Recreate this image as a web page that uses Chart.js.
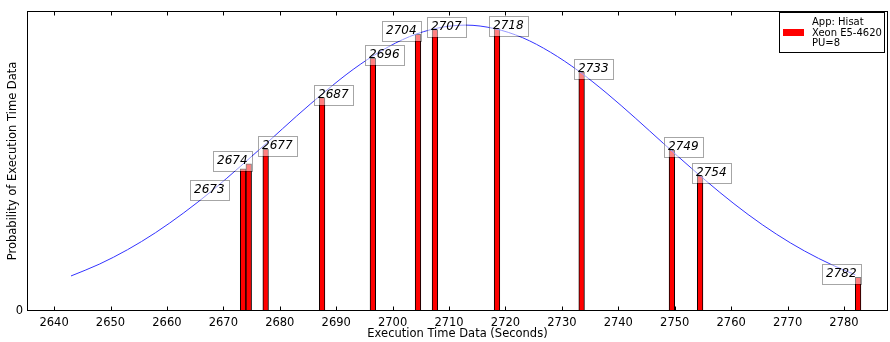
<!DOCTYPE html>
<html>
<head>
<meta charset="utf-8">
<script src="https://cdn.jsdelivr.net/npm/chart.js@4.4.1/dist/chart.umd.min.js"></script>
<style>
  html, body { margin: 0; padding: 0; background: #fff; }
  #execTimeReport { width: 890px; height: 342px; }
</style>
</head>
<body>
<div id="execTimeReport">
  <canvas id="execTimeCanvas" width="890" height="342"></canvas>
</div>
<script>
// measured run times (seconds) and their probability
const runTimes = [2673, 2674, 2677, 2687, 2696, 2704, 2707, 2718, 2733, 2749, 2754, 2782];
const runProb = [0.00580, 0.00601, 0.00661, 0.00871, 0.01032, 0.01129, 0.01149, 0.01153, 0.00975, 0.00657, 0.00552, 0.00137];

// fitted normal curve
const fitX = [2643, 2648, 2653, 2658, 2663, 2668, 2673, 2678, 2683, 2688, 2693, 2698, 2703, 2708,
  2713, 2718, 2723, 2728, 2733, 2738, 2743, 2748, 2753, 2758, 2763, 2768, 2773, 2778, 2782];
const fitY = [0.00143, 0.00191, 0.00250, 0.00320, 0.00401, 0.00491, 0.00590, 0.00692, 0.00796, 0.00895,
  0.00986, 0.01062, 0.01120, 0.01155, 0.01167, 0.01153, 0.01116, 0.01056, 0.00979, 0.00888, 0.00788,
  0.00684, 0.00582, 0.00484, 0.00394, 0.00314, 0.00245, 0.00187, 0.00148];

const xTicks = [2640, 2650, 2660, 2670, 2680, 2690, 2700, 2710, 2720, 2730, 2740, 2750, 2760, 2770, 2780];
const yTicks = [0];
const legendLines = ['App: Hisat', 'Xeon E5-4620', 'PU=8'];

const FONT = '"DejaVu Sans", sans-serif';

// labels that were pushed aside so they don't overlap (pixels)
const labelNudge = { 0: [-45, 24], 1: [-28, 0], 5: [-28, 0], 11: [-28, 0] };

/**
 * Draws the value boxes over the bar tops, the full frame with inward ticks and the legend
 */
const annotatePlugin = {
  id: 'annotatePlugin',
  afterDatasetsDraw(chart) {
    const { ctx, scales: { x, y } } = chart;
    ctx.save();
    ctx.font = 'italic 12px ' + FONT;
    ctx.textBaseline = 'alphabetic';
    ctx.textAlign = 'left';
    ctx.lineWidth = 1;
    runTimes.forEach((t, i) => {
      const [dx, dy] = labelNudge[i] || [0, 0];
      const tx = Math.round(x.getPixelForValue(t) - 1 + dx);
      const ty = Math.round(y.getPixelForValue(runProb[i]) + dy);
      const txt = String(t);
      const w = ctx.measureText(txt).width;
      const bx = tx - 4, by = ty - 13, bw = Math.round(w + 8), bh = 20;
      ctx.fillStyle = 'rgba(255,255,255,0.5)';
      ctx.fillRect(bx, by, bw, bh);
      ctx.strokeStyle = 'rgba(0,0,0,0.35)';
      ctx.strokeRect(bx + 0.5, by + 0.5, bw, bh);
      ctx.fillStyle = '#000';
      ctx.fillText(txt, tx, ty);
    });
    ctx.restore();
  },
  afterDraw(chart) {
    const { ctx, chartArea: a, scales: { x } } = chart;
    const l = Math.round(a.left) + 0.5, r = Math.round(a.right) - 0.5;
    const t = Math.round(a.top) + 0.5, b = Math.round(a.bottom) - 0.5;
    ctx.save();
    ctx.strokeStyle = '#000';
    ctx.lineWidth = 1;
    ctx.strokeRect(l, t, r - l, b - t);

    // inward ticks top and bottom
    ctx.beginPath();
    xTicks.forEach(v => {
      const px = Math.round(x.getPixelForValue(v)) + 0.5;
      ctx.moveTo(px, b);
      ctx.lineTo(px, b - 4);
      ctx.moveTo(px, t);
      ctx.lineTo(px, t + 4);
    });
    ctx.stroke();

    // legend
    const lx = 779.5, ly = 12.5, lw = 105, lh = 40;
    ctx.fillStyle = '#fff';
    ctx.fillRect(lx, ly, lw, lh);
    ctx.strokeStyle = '#000';
    ctx.strokeRect(lx, ly, lw, lh);
    ctx.fillStyle = '#ff0000';
    ctx.fillRect(783, 29, 21, 7);
    ctx.fillStyle = '#000';
    ctx.font = '10px ' + FONT;
    ctx.textBaseline = 'middle';
    ctx.textAlign = 'left';
    legendLines.forEach((line, i) => {
      ctx.fillText(line, 812, 22.5 + i * 10.5);
    });
    ctx.restore();
  },
};

const ctx = document.getElementById('execTimeCanvas').getContext('2d');

window.ExecChartRef = new Chart(ctx, {
  type: 'bar',
  data: {
    datasets: [
      {
        type: 'line',
        label: 'fit',
        data: fitX.map((v, i) => ({ x: v, y: fitY[i] })),
        borderColor: '#3333ff',
        borderWidth: 1,
        pointRadius: 0,
        cubicInterpolationMode: 'monotone',
        fill: false,
        order: 0,
      },
      {
        type: 'bar',
        label: 'App: Hisat',
        // bars sit on the right of their value (edge aligned)
        data: runTimes.map((v, i) => ({ x: v + 0.5, y: runProb[i] })),
        backgroundColor: '#ff0000',
        borderColor: '#000',
        borderWidth: 1,
        barPercentage: 1,
        categoryPercentage: 1,
        order: 1,
      },
    ],
  },
  options: {
    responsive: false,
    animation: false,
    devicePixelRatio: 1,
    layout: { padding: { left: 0, top: 7, right: 2, bottom: 0 } },
    plugins: {
      legend: { display: false },
      tooltip: { enabled: false },
    },
    scales: {
      x: {
        type: 'linear',
        min: 2635.2,
        max: 2787.8,
        offset: false,
        grid: { display: false, drawTicks: false },
        border: { display: false },
        afterBuildTicks(scale) {
          scale.ticks = xTicks.map(value => ({ value }));
        },
        afterFit(scale) {
          scale.height = 31;
        },
        ticks: {
          color: '#000',
          padding: 5,
          maxRotation: 0,
          font: { family: FONT, size: 11.5 },
          callback: v => String(v),
        },
        title: {
          display: true,
          text: 'Execution Time Data (Seconds)',
          color: '#000',
          padding: { top: 0, bottom: 1 },
          font: { family: FONT, size: 11.5 },
        },
      },
      y: {
        min: 0,
        max: 0.01225,
        grid: { display: false, drawTicks: false },
        border: { display: false },
        afterBuildTicks(scale) {
          scale.ticks = yTicks.map(value => ({ value }));
        },
        afterFit(scale) {
          scale.width = 27;
        },
        ticks: {
          color: '#000',
          padding: 4,
          font: { family: FONT, size: 11.5 },
          callback: v => String(v),
        },
        title: {
          display: true,
          text: 'Probability of Execution Time Data',
          color: '#000',
          padding: { top: 6, bottom: 0 },
          font: { family: FONT, size: 11.5 },
        },
      },
    },
  },
  plugins: [annotatePlugin],
});
</script>
</body>
</html>
